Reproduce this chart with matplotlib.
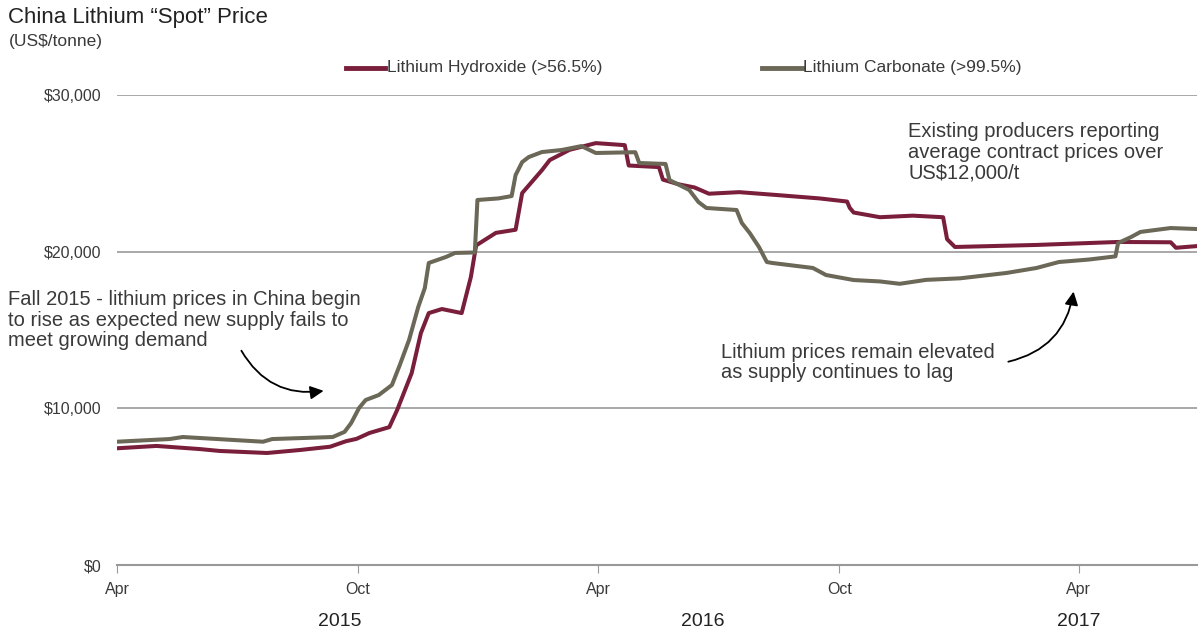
import matplotlib
matplotlib.use("Agg")
import matplotlib.pyplot as plt
import pandas as pd

# Lithium Hydroxide (>56.5%)
hyd_dates = ["2015-04-01", "2015-05-01", "2015-06-03", "2015-06-18", "2015-07-24", "2015-08-18",
             "2015-09-10", "2015-09-22", "2015-09-30", "2015-10-10", "2015-10-25", "2015-10-31",
             "2015-11-11", "2015-11-18", "2015-11-24", "2015-12-04", "2015-12-19", "2015-12-26",
             "2015-12-30", "2016-01-14", "2016-01-29", "2016-02-03", "2016-02-18", "2016-02-24",
             "2016-03-10", "2016-03-30", "2016-04-21", "2016-04-24", "2016-05-17", "2016-05-20",
             "2016-06-01", "2016-06-13",
             "2016-06-24", "2016-07-17", "2016-08-17", "2016-09-16", "2016-10-07", "2016-10-09",
             "2016-10-12", "2016-11-01", "2016-11-26", "2016-12-19", "2016-12-22", "2016-12-28",
             "2017-02-28", "2017-05-01", "2017-06-10", "2017-06-14", "2017-06-29"]
hyd_vals = [7450, 7600, 7400, 7280, 7150, 7340,
            7550, 7900, 8050, 8430, 8800, 9900,
            12250, 14800, 16080, 16340, 16080, 18380,
            20400, 21200, 21400, 23740, 25200, 25850,
            26500, 26930, 26800, 25500, 25400, 24600,
            24300, 24100,
            23700, 23800, 23600, 23400, 23200, 22800,
            22500, 22200, 22300, 22200, 20800, 20300,
            20430, 20620, 20600, 20250, 20350]

# Lithium Carbonate (>99.5%)
carb_dates = ["2015-04-01", "2015-05-11", "2015-05-21", "2015-07-21", "2015-07-28", "2015-09-12",
              "2015-09-21", "2015-09-26", "2015-10-02", "2015-10-07", "2015-10-17", "2015-10-27",
              "2015-11-02", "2015-11-09", "2015-11-16", "2015-11-21", "2015-11-24", "2015-12-07",
              "2015-12-14", "2015-12-29", "2015-12-31", "2016-01-16", "2016-01-26", "2016-01-29",
              "2016-02-03", "2016-02-08", "2016-02-18", "2016-03-04", "2016-03-19", "2016-03-30",
              "2016-04-29", "2016-05-02", "2016-05-22", "2016-05-25", "2016-06-09", "2016-06-16",
              "2016-06-22", "2016-07-15", "2016-07-19", "2016-07-25", "2016-08-01", "2016-08-07",
              "2016-08-11", "2016-09-11", "2016-09-21", "2016-10-12", "2016-11-01", "2016-11-16",
              "2016-12-06", "2017-01-01", "2017-02-05", "2017-02-28", "2017-03-17", "2017-04-09",
              "2017-04-29", "2017-05-01", "2017-05-11", "2017-05-18", "2017-06-10", "2017-06-29"]
carb_vals = [7870, 8040, 8170, 7870, 8040, 8170,
             8500, 9060, 10020, 10530, 10850, 11490,
             12770, 14360, 16470, 17680, 19280, 19660,
             19920, 19950, 23300, 23400, 23550, 24890,
             25720, 26040, 26360, 26490, 26740, 26300,
             26350, 25660, 25600, 24570, 23940, 23170,
             22790, 22660, 21830, 21190, 20300, 19340,
             19280, 18960, 18510, 18190, 18100, 17950,
             18200, 18300, 18640, 18960, 19340, 19500,
             19700, 20550, 20940, 21260, 21510, 21450]

y_ticks = [0, 10000, 20000, 30000]
y_labels = ["$0", "$10,000", "$20,000", "$30,000"]
x_ticks = ["2015-04-01", "2015-10-01", "2016-04-01", "2016-10-01", "2017-04-01"]
x_labels = ["Apr", "Oct", "Apr", "Oct", "Apr"]
years = ["2015", "2016", "2017"]
year_pos = ["2015-09-17", "2016-06-19", "2017-04-01"]

red = "#7a1f3b"
olive = "#6b6858"
txt = "#3a3a3a"
plt.rcParams["font.family"] = ["Liberation Sans", "DejaVu Sans"]

fig = plt.figure(figsize=(12, 6.39), dpi=100)
ax = fig.add_axes([0.0975, 0.1158, 0.9, 0.7355])

ax.plot(pd.to_datetime(hyd_dates), hyd_vals, color=red, lw=2.9, solid_joinstyle="round")
ax.plot(pd.to_datetime(carb_dates), carb_vals, color=olive, lw=2.9, solid_joinstyle="round")

ax.set_xlim(pd.Timestamp("2015-04-01"), pd.Timestamp("2017-06-30"))
ax.set_ylim(0, 30000)
ax.set_yticks(y_ticks)
ax.set_yticklabels(y_labels)
ax.set_xticks(pd.to_datetime(x_ticks))
ax.set_xticklabels(x_labels)
for s in ["top", "right", "left"]:
    ax.spines[s].set_visible(False)
ax.spines["bottom"].set_color("#999999")
ax.spines["bottom"].set_linewidth(1.5)
for v in y_ticks[1:]:
    ax.axhline(v, color="#999999", lw=1.2, zorder=0)
ax.tick_params(axis="y", length=0, pad=11, labelsize=11.5, labelcolor=txt)
ax.tick_params(axis="x", length=6, color="#999999", pad=6, labelsize=11.5, labelcolor=txt)

for yr, pos in zip(years, year_pos):
    ax.text(pd.Timestamp(pos), -0.12, yr, transform=ax.get_xaxis_transform(),
            ha="center", va="center", fontsize=14, color="#222222")

# title
fig.text(0.007, 0.972, "China Lithium \u201cSpot\u201d Price", fontsize=16, color="#222222", va="center")
fig.text(0.007, 0.935, "(US$/tonne)", fontsize=12.5, color=txt, va="center")

# legend
fig.lines.append(plt.Line2D([0.288, 0.321], [0.894, 0.894], color=red, lw=3.5, transform=fig.transFigure))
fig.text(0.3225, 0.894, "Lithium Hydroxide (>56.5%)", fontsize=12.5, color=txt, va="center")
fig.lines.append(plt.Line2D([0.635, 0.668], [0.894, 0.894], color=olive, lw=3.5, transform=fig.transFigure))
fig.text(0.6695, 0.894, "Lithium Carbonate (>99.5%)", fontsize=12.5, color=txt, va="center")

# annotations
fig.text(0.007, 0.499, "Fall 2015 - lithium prices in China begin\nto rise as expected new supply fails to\nmeet growing demand",
         fontsize=14.5, color=txt, va="center", linespacing=1.1)
fig.text(0.601, 0.433, "Lithium prices remain elevated\nas supply continues to lag",
         fontsize=14.5, color=txt, va="center", linespacing=1.1)
fig.text(0.757, 0.762, "Existing producers reporting\naverage contract prices over\nUS$12,000/t",
         fontsize=14.5, color=txt, va="center", linespacing=1.1)

fig.patches.append(matplotlib.patches.FancyArrowPatch(
    (0.200, 0.455), (0.272, 0.389), transform=fig.transFigure,
    connectionstyle="arc3,rad=0.35", arrowstyle="-|>,head_length=8,head_width=4",
    color="black", lw=1.3))
fig.patches.append(matplotlib.patches.FancyArrowPatch(
    (0.838, 0.433), (0.895, 0.548), transform=fig.transFigure,
    connectionstyle="arc3,rad=0.35", arrowstyle="-|>,head_length=8,head_width=4",
    color="black", lw=1.3))

fig.savefig("out.png", dpi=100, facecolor="white")
